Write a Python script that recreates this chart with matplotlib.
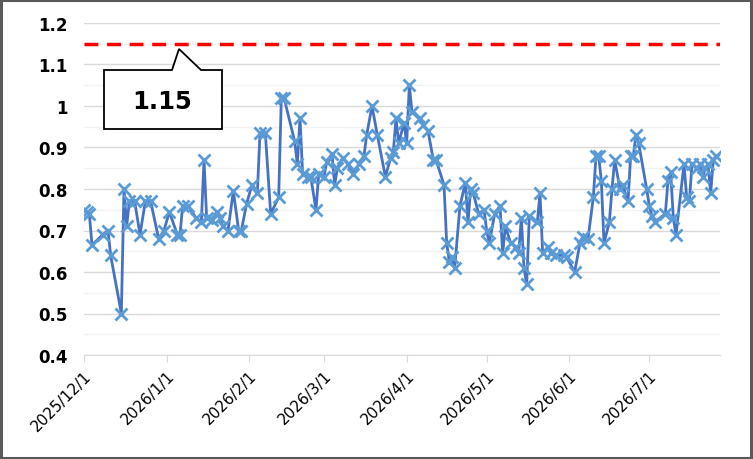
import numpy as np
import pandas as pd
import matplotlib
matplotlib.use("Agg")
import matplotlib.pyplot as plt
import matplotlib.dates as mdates
from matplotlib.patches import Polygon, Rectangle
from matplotlib.ticker import MultipleLocator, FuncFormatter

# days since 2025/12/1 and the value
day_offset = [0, 1, 2, 3, 7, 9, 10, 14, 15, 16, 17, 19, 21, 23, 25, 28, 30, 32, 35, 36,
              37, 39, 42, 44, 45, 46, 48, 50, 51, 52, 54, 56, 58, 59, 61, 63, 65, 66, 68, 70,
              73, 74, 75, 79, 80, 81, 82, 84, 85, 87, 88, 90, 91, 93, 94, 95, 97, 99, 101, 103,
              105, 106, 108, 110, 113, 115, 116, 117, 118, 120, 121, 122, 123, 126, 127, 129, 131, 132, 135, 136,
              137, 138, 139, 141, 143, 144, 145, 146, 148, 150, 151, 152, 154, 156, 157, 158, 160, 162, 163, 164,
              165, 166, 167, 170, 171, 172, 174, 175, 177, 180, 181, 184, 186, 187, 189, 191, 192, 193, 194, 195,
              197, 198, 199, 201, 202, 204, 205, 206, 207, 208, 211, 212, 213, 214, 218, 219, 220, 221, 222, 225,
              226, 227, 228, 230, 231, 232, 233, 234, 235, 236, 237]
values = [0.75, 0.745, 0.74, 0.665, 0.69, 0.70, 0.64, 0.50, 0.80, 0.71, 0.77, 0.77, 0.69, 0.77, 0.77, 0.68, 0.70, 0.745, 0.69, 0.69,
          0.76, 0.76, 0.73, 0.72, 0.87, 0.73, 0.725, 0.745, 0.73, 0.71, 0.70, 0.795, 0.70, 0.70, 0.765, 0.81, 0.79, 0.935, 0.935, 0.74,
          0.78, 1.02, 1.02, 0.915, 0.86, 0.97, 0.835, 0.83, 0.83, 0.75, 0.835, 0.83, 0.865, 0.885, 0.81, 0.85, 0.875, 0.86, 0.835, 0.86,
          0.88, 0.93, 1.00, 0.93, 0.83, 0.875, 0.89, 0.97, 0.91, 0.96, 0.91, 1.05, 0.985, 0.97, 0.955, 0.94, 0.87, 0.87, 0.81, 0.67,
          0.625, 0.635, 0.61, 0.76, 0.815, 0.72, 0.80, 0.79, 0.74, 0.75, 0.70, 0.67, 0.74, 0.76, 0.645, 0.71, 0.67, 0.66, 0.645, 0.73,
          0.61, 0.57, 0.735, 0.72, 0.79, 0.645, 0.66, 0.645, 0.64, 0.64, 0.635, 0.60, 0.67, 0.685, 0.68, 0.78, 0.88, 0.88, 0.82, 0.67,
          0.72, 0.80, 0.87, 0.80, 0.81, 0.77, 0.88, 0.88, 0.93, 0.91, 0.80, 0.76, 0.735, 0.72, 0.74, 0.82, 0.84, 0.73, 0.69, 0.86,
          0.78, 0.77, 0.86, 0.85, 0.86, 0.83, 0.85, 0.86, 0.79, 0.87, 0.88]
threshold = 1.15
label_text = "1.15"

start = pd.Timestamp("2025-12-01")
dates = start + pd.to_timedelta(day_offset, unit="D")

W, H = 753, 460
fig = plt.figure(figsize=(W / 100, H / 100), dpi=100)
ax = fig.add_axes([84 / W, 1 - 356 / H, (720 - 84) / W, (356 - 24) / H])

ax.plot(dates, values, color="#4472C4", lw=2, marker="x", ms=9, mew=2,
        mec="#5B9BD5", zorder=3)
ax.axhline(threshold, color="#FF0000", lw=2.5, ls=(0, (4, 2.5)), zorder=4)

ax.set_ylim(0.4, 1.2)
ax.set_xlim(start, start + pd.Timedelta(days=238.5))
ax.yaxis.set_major_locator(MultipleLocator(0.1))
ax.yaxis.set_minor_locator(MultipleLocator(0.05))
ax.yaxis.set_major_formatter(FuncFormatter(lambda v, p: f"{v:g}"))
ax.grid(axis="y", which="major", color="#d9d9d9", lw=1)
ax.grid(axis="y", which="minor", color="#f2f2f2", lw=1)
ax.set_axisbelow(True)

ax.xaxis.set_major_locator(mdates.MonthLocator())
ax.xaxis.set_major_formatter(FuncFormatter(
    lambda v, p: f"{mdates.num2date(v).year}/{mdates.num2date(v).month}/{mdates.num2date(v).day}"))

for s in ["top", "right", "left"]:
    ax.spines[s].set_visible(False)
ax.spines["bottom"].set_color("#d9d9d9")
ax.tick_params(axis="x", direction="out", length=5, color="#d9d9d9", labelsize=11,
               labelcolor="#000000", pad=4)
ax.tick_params(axis="y", which="both", length=0, labelsize=12, pad=12)
for lab in ax.get_yticklabels():
    lab.set_fontweight("bold")
for lab in ax.get_xticklabels():
    lab.set_rotation(45)
    lab.set_ha("right")
    lab.set_rotation_mode("anchor")

# callout box pointing at the threshold line
pts = [(104, 71), (172, 71), (179, 50), (201, 71), (222, 71), (222, 130), (104, 130)]
fig.patches.append(Polygon([(x / W, 1 - y / H) for x, y in pts], closed=True,
                           transform=fig.transFigure, facecolor="white",
                           edgecolor="black", lw=1.3, zorder=5))
fig.text(162 / W, 1 - 102 / H, label_text, ha="center", va="center",
         fontsize=17.5, fontweight="bold", zorder=6)

# chart border
fig.patches.append(Rectangle((0.001, 0.002), 0.997, 0.996, transform=fig.transFigure,
                             fill=False, edgecolor="#595959", lw=2.2))

fig.savefig("out.png", dpi=100)
